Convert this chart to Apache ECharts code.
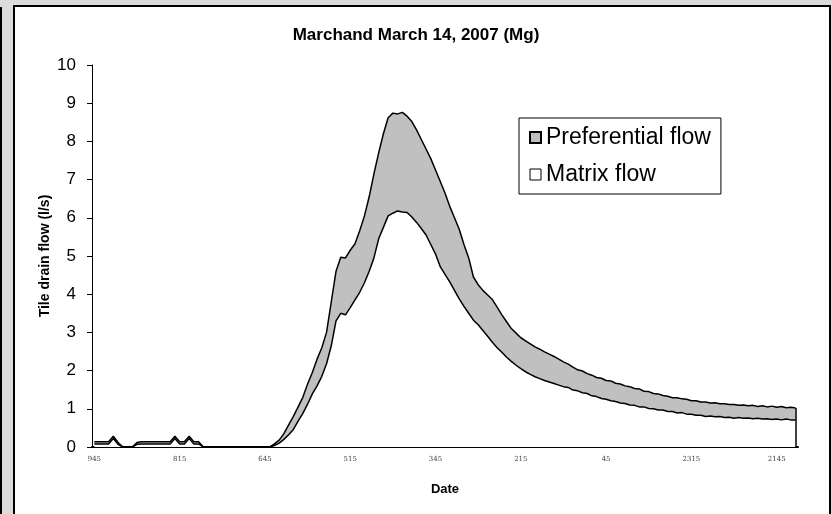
<!DOCTYPE html>
<html>
<head>
<meta charset="utf-8">
<script src="https://cdn.jsdelivr.net/npm/echarts@6/dist/echarts.min.js"></script>
<style>
  html, body { margin: 0; padding: 0; background: #dcdcdc; }
  #chart { width: 832px; height: 514px; }
</style>
</head>
<body>
<div id="chart"></div>
<script>
  // time stamps every 5 min, counting back from 9:45
  var startMinutes = 9 * 60 + 45;
  var stepMinutes = -5;
  var pointCount = 149;

  var yTicks = [0, 1, 2, 3, 4, 5, 6, 7, 8, 9, 10];

  // matrix flow (l/s), bottom of the stack
  var matrixFlow = [
    0.08, 0.08, 0.08, 0.08, 0.22, 0.07, 0, 0, 0, 0.07,
    0.08, 0.08, 0.08, 0.08, 0.08, 0.08, 0.08, 0.22, 0.08, 0.08,
    0.22, 0.08, 0.08, 0, 0, 0, 0, 0, 0, 0,
    0, 0, 0, 0, 0, 0, 0, 0, 0.04, 0.10,
    0.20, 0.32, 0.46, 0.68, 0.88, 1.12, 1.39, 1.60, 1.85, 2.18,
    2.65, 3.30, 3.50, 3.46, 3.65, 3.85, 4.05, 4.30, 4.60, 4.95,
    5.45, 5.75, 6.05, 6.12, 6.18, 6.15, 6.14, 6.02, 5.88, 5.72,
    5.55, 5.30, 5.05, 4.72, 4.52, 4.32, 4.10, 3.88, 3.68, 3.50,
    3.32, 3.20, 3.05, 2.90, 2.74, 2.60, 2.48, 2.35, 2.24, 2.14,
    2.05, 1.97, 1.90, 1.84, 1.79, 1.74, 1.70, 1.66, 1.62, 1.58,
    1.56, 1.49, 1.47, 1.42, 1.40, 1.34, 1.32, 1.27, 1.25, 1.21,
    1.19, 1.15, 1.14, 1.10, 1.09, 1.05, 1.05, 1.01, 1.00, 0.97,
    0.97, 0.93, 0.93, 0.89, 0.90, 0.86, 0.86, 0.83, 0.83, 0.80,
    0.81, 0.79, 0.80, 0.77, 0.78, 0.75, 0.77, 0.75, 0.76, 0.74,
    0.75, 0.73, 0.74, 0.72, 0.73, 0.71, 0.73, 0.71, 0.71
  ];

  // preferential flow (l/s), stacked on top of matrix flow
  var preferentialFlow = [
    0.06, 0.06, 0.06, 0.06, 0.06, 0.05, 0, 0, 0, 0.05,
    0.06, 0.06, 0.06, 0.06, 0.06, 0.06, 0.06, 0.06, 0.06, 0.06,
    0.06, 0.06, 0.06, 0, 0, 0, 0, 0, 0, 0,
    0, 0, 0, 0, 0, 0, 0, 0, 0.04, 0.08,
    0.15, 0.26, 0.34, 0.37, 0.42, 0.53, 0.56, 0.70, 0.75, 0.82,
    1.15, 1.30, 1.47, 1.49, 1.50, 1.47, 1.61, 1.75, 1.95, 2.20,
    2.25, 2.45, 2.57, 2.62, 2.54, 2.61, 2.52, 2.50, 2.42, 2.33,
    2.25, 2.25, 2.20, 2.23, 2.13, 1.98, 1.90, 1.82, 1.62, 1.45,
    1.13, 1.05, 1.05, 1.08, 1.12, 1.06, 0.98, 0.93, 0.86, 0.84,
    0.81, 0.81, 0.80, 0.78, 0.77, 0.75, 0.73, 0.71, 0.68, 0.65,
    0.61, 0.60, 0.55, 0.57, 0.52, 0.54, 0.50, 0.53, 0.49, 0.52,
    0.48, 0.50, 0.46, 0.48, 0.44, 0.47, 0.41, 0.44, 0.40, 0.42,
    0.38, 0.40, 0.36, 0.40, 0.36, 0.39, 0.35, 0.38, 0.35, 0.38,
    0.34, 0.37, 0.33, 0.36, 0.33, 0.36, 0.32, 0.35, 0.32, 0.35,
    0.31, 0.35, 0.31, 0.35, 0.31, 0.35, 0.30, 0.33, 0.31
  ];

  var categories = [];
  for (var i = 0; i < pointCount; i++) {
    var m = ((startMinutes + i * stepMinutes) % 1440 + 1440) % 1440;
    categories.push(String(Math.floor(m / 60) * 100 + (m % 60)));
  }

  var last = pointCount - 1;
  var lastTotal = matrixFlow[last] + preferentialFlow[last];

  var chart = echarts.init(document.getElementById('chart'));
  var font = 'Liberation Sans, Arial, sans-serif';

  chart.setOption({
    animation: false,
    backgroundColor: '#dcdcdc',
    graphic: [
      { type: 'rect', shape: { x: 14, y: 6, width: 816, height: 520 },
        style: { fill: '#ffffff', stroke: '#000', lineWidth: 2 }, z: -10 },
      { type: 'line', shape: { x1: 1, y1: 7, x2: 1, y2: 514 },
        style: { stroke: '#000', lineWidth: 2 }, z: -10 }
    ],
    title: {
      text: 'Marchand March 14, 2007 (Mg)',
      left: 'center',
      top: 22,
      textStyle: { fontFamily: font, fontSize: 17, fontWeight: 'bold', color: '#000' }
    },
    legend: {
      orient: 'vertical',
      left: 519,
      top: 118,
      padding: [8, 10, 8, 10],
      itemGap: 14,
      itemWidth: 11,
      itemHeight: 11,
      backgroundColor: '#fff',
      borderColor: '#000',
      borderWidth: 1,
      textStyle: { fontFamily: font, fontSize: 23, color: '#000' },
      data: [
        { name: 'Preferential flow', icon: 'rect',
          itemStyle: { color: '#c0c0c0', borderColor: '#000', borderWidth: 2 } },
        { name: 'Matrix flow', icon: 'rect',
          itemStyle: { color: '#fff', borderColor: '#000', borderWidth: 1 } }
      ]
    },
    grid: { left: 92, right: 34, top: 65, bottom: 67 },
    xAxis: {
      type: 'category',
      data: categories,
      name: 'Date',
      nameLocation: 'middle',
      nameGap: 36,
      nameTextStyle: { fontFamily: font, fontSize: 13, fontWeight: 'bold', color: '#000' },
      axisLine: { lineStyle: { color: '#000', width: 2 } },
      axisTick: { interval: 0, length: 3, lineStyle: { color: '#000' } },
      axisLabel: { interval: 17, fontFamily: 'DejaVu Serif, serif', fontSize: 7, color: '#444', margin: 9 },
      splitLine: { show: false }
    },
    yAxis: {
      type: 'value',
      min: yTicks[0],
      max: yTicks[yTicks.length - 1],
      interval: 1,
      name: 'Tile drain flow (l/s)',
      nameLocation: 'middle',
      nameGap: 40,
      nameMoveOverlap: false,
      nameTextStyle: { fontFamily: font, fontSize: 14, fontWeight: 'bold', color: '#000' },
      axisLine: { show: true, lineStyle: { color: '#000', width: 1 } },
      axisTick: { show: true, length: 5, lineStyle: { color: '#000' } },
      axisLabel: { fontFamily: font, fontSize: 17, color: '#000', margin: 16 },
      splitLine: { show: false }
    },
    series: [
      {
        name: 'Matrix flow',
        type: 'line',
        stack: 'flow',
        data: matrixFlow,
        symbol: 'none',
        z: 3,
        lineStyle: { color: '#000', width: 1.5 },
        itemStyle: { color: '#fff' },
        areaStyle: { color: '#fff', opacity: 1 }
      },
      {
        name: 'Preferential flow',
        type: 'line',
        stack: 'flow',
        data: preferentialFlow,
        symbol: 'none',
        z: 2,
        lineStyle: { color: '#000', width: 1.5 },
        itemStyle: { color: '#c0c0c0' },
        areaStyle: { color: '#c0c0c0', opacity: 1 },
        markLine: {
          silent: true,
          symbol: 'none',
          label: { show: false },
          lineStyle: { color: '#000', width: 1.5, type: 'solid' },
          data: [[{ coord: [last, 0] }, { coord: [last, lastTotal] }]]
        }
      }
    ]
  });
</script>
</body>
</html>
